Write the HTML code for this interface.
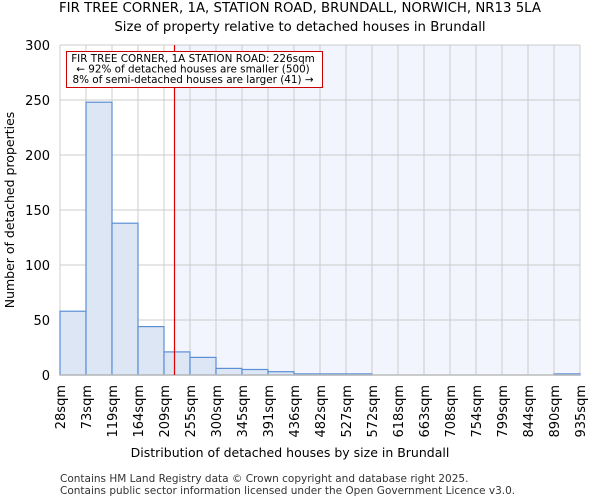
<!DOCTYPE html>
<html><head><meta charset="utf-8"><style>
body{margin:0;background:#fff;font-family:"DejaVu Sans","Liberation Sans",sans-serif;}
</style></head><body>
<svg id="chart" width="600" height="500" xmlns="http://www.w3.org/2000/svg" font-family="DejaVu Sans, Liberation Sans, sans-serif">
<text x="300" y="12" text-anchor="middle" font-size="13.3">FIR TREE CORNER, 1A, STATION ROAD, BRUNDALL, NORWICH, NR13 5LA</text>
<text x="300" y="31" text-anchor="middle" font-size="13.3">Size of property relative to detached houses in Brundall</text>
<g id="plot"></g>
<text x="290" y="457" text-anchor="middle" font-size="12.5">Distribution of detached houses by size in Brundall</text>
<text transform="translate(14,210) rotate(-90)" text-anchor="middle" font-size="12.5">Number of detached properties</text>
<text x="60" y="482" font-size="10.5" fill="#333">Contains HM Land Registry data © Crown copyright and database right 2025.</text>
<text x="60" y="494" font-size="10.5" fill="#333">Contains public sector information licensed under the Open Government Licence v3.0.</text>
</svg>
<script>
const tickLabels=["28sqm","73sqm","119sqm","164sqm","209sqm","255sqm","300sqm","345sqm","391sqm","436sqm","482sqm","527sqm","572sqm","618sqm","663sqm","708sqm","754sqm","799sqm","844sqm","890sqm","935sqm"];
const counts=[58,248,138,44,21,16,6,5,3,1,1,1,0,0,0,0,0,0,0,1];
const yTicks=[0,50,100,150,200,250,300];
const subjectSize=226;
const NS="http://www.w3.org/2000/svg";
const L=60,R=580,T=45,B=375;
const nb=counts.length;
const bw=(R-L)/nb;
const xIdx=i=>L+i*bw;
const xVal=v=>L+(v-28)/(935-28)*(R-L);
const y=v=>B-v/300*(B-T);
const g=document.getElementById('plot');
function mk(tag,a){const e=document.createElementNS(NS,tag);for(const k in a)e.setAttribute(k,a[k]);g.appendChild(e);return e;}
const sx=Math.round(xVal(subjectSize))+0.5;
let e=mk('rect',{x:sx,y:T,width:R-sx,height:B-T,fill:'#f2f5fd'});


yTicks.forEach(t=>{
 let l=mk('line',{x1:L,x2:R,y1:y(t),y2:y(t),stroke:'#ccc','stroke-width':1});
 
 
 let tx=mk('text',{x:L-10,y:y(t)+5,'text-anchor':'end','font-size':13});
 tx.textContent=t;
 
 
});
for(let i=0;i<=nb;i++){
 let l=mk('line',{x1:xIdx(i),x2:xIdx(i),y1:T,y2:B,stroke:'#ccc','stroke-width':1});
 
 
}
counts.forEach((c,i)=>{
 if(c<=0)return;
 let r=mk('rect',{x:xIdx(i),y:y(c),width:bw,height:B-y(c),fill:'#dce6f4',stroke:'#5b8fd6','stroke-width':1.2});
 
 
});
let ax=mk('line',{x1:L,x2:R,y1:B,y2:B,stroke:'#bbb','stroke-width':1.5});


tickLabels.forEach((t,i)=>{
 const xx=xIdx(i);
 let tx=mk('text',{transform:`translate(${xx+5},${B+10}) rotate(-90)`,'text-anchor':'end','font-size':13});
 tx.textContent=t;
 
 
});
let rl=mk('line',{x1:sx,x2:sx,y1:T,y2:B,stroke:'#dd0000','stroke-width':1.2});


let box=mk('rect',{x:66.5,y:51.5,width:256,height:36,fill:'#fff',stroke:'#cc0000','stroke-width':1});


["FIR TREE CORNER, 1A STATION ROAD: 226sqm","\u2190 92% of detached houses are smaller (500)","8% of semi-detached houses are larger (41) \u2192"].forEach((s,i)=>{
 let tx=mk('text',{x:193,y:62+i*10.5,'text-anchor':'middle','font-size':10.4});
 tx.textContent=s;
 
 
});
</script>
</body></html>
